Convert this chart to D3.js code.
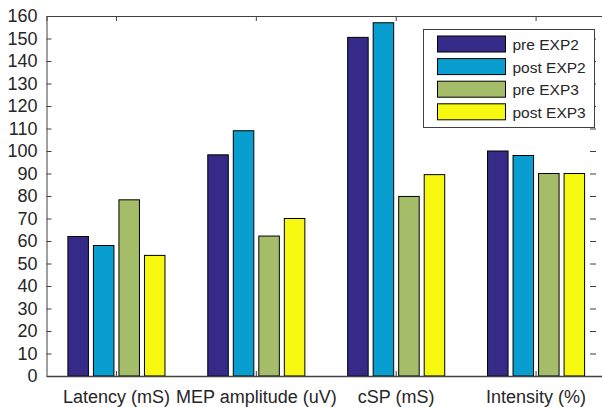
<!DOCTYPE html>
<html>
<head>
  <script src="https://d3js.org/d3.v7.min.js"></script>
  <style>
    body { margin: 0; background: #ffffff; }
    svg { display: block; font-family: 'Liberation Sans', Arial, sans-serif; }
  </style>
</head>
<body>
  <div id="chart"></div>
  <script>
    // chart data
    const categories = ["Latency (mS)", "MEP amplitude (uV)", "cSP (mS)", "Intensity (%)"];
    const seriesNames = ["pre EXP2", "post EXP2", "pre EXP3", "post EXP3"];
    const preExp2 = [62, 98.3, 150.5, 100];
    const postExp2 = [58, 109, 157, 98];
    const preExp3 = [78.3, 62.2, 79.8, 90];
    const postExp3 = [53.6, 70, 89.5, 90];
    const yTicks = [0, 10, 20, 30, 40, 50, 60, 70, 80, 90, 100, 110, 120, 130, 140, 150, 160];
    const colors = ["#352a87", "#089fd0", "#a5bd69", "#f7f80f"];

    const seriesValues = [preExp2, postExp2, preExp3, postExp3];

    const W = 602, H = 407;
    const plotLeft = 46.5, plotRight = 606, plotTop = 16, plotBottom = 376;

    const svg = d3.select("#chart").append("svg")
      .attr("width", W)
      .attr("height", H);

    const x = d3.scaleBand().domain(categories).range([plotLeft, plotRight]).padding(0);
    const bw = x.bandwidth();
    const xInner = d3.scaleBand().domain(seriesNames)
      .range([bw * 0.153, bw * 0.847])
      .paddingInner(0.196);
    const y = d3.scaleLinear().domain([0, 160]).range([plotBottom, plotTop]);

    const axisColor = "#404040";

    // bars
    const groups = svg.append("g").selectAll("g")
      .data(categories)
      .join("g")
      .attr("transform", d => `translate(${x(d)},0)`);

    groups.selectAll("rect")
      .data((c, i) => seriesNames.map((s, j) => ({ s, j, v: seriesValues[j][i] })))
      .join("rect")
      .attr("x", d => xInner(d.s))
      .attr("width", xInner.bandwidth())
      .attr("y", d => y(d.v))
      .attr("height", d => y(0) - y(d.v))
      .attr("fill", d => colors[d.j])
      .attr("stroke", "#000")
      .attr("stroke-width", 1);

    // left axis
    const yAxis = d3.axisLeft(y).tickValues(yTicks).tickSize(-5).tickPadding(9);
    const gy = svg.append("g")
      .attr("transform", `translate(${plotLeft},0)`)
      .call(yAxis);
    gy.select(".domain").attr("stroke", axisColor);
    gy.selectAll(".tick line").attr("stroke", axisColor);
    gy.selectAll(".tick text")
      .attr("font-size", 18)
      .attr("font-family", "'Liberation Sans', Arial, sans-serif")
      .attr("fill", "#262626");

    // right ticks
    const rightAxis = d3.axisRight(y).tickValues(yTicks).tickSize(-6).tickFormat("");
    const gr = svg.append("g")
      .attr("transform", `translate(${plotRight - 10},0)`)
      .call(rightAxis);
    gr.select(".domain").remove();
    gr.selectAll(".tick line").attr("stroke", axisColor);

    // bottom axis
    const xAxis = d3.axisBottom(x).tickSize(0).tickPadding(14);
    const gx = svg.append("g")
      .attr("transform", `translate(0,${plotBottom})`)
      .call(xAxis);
    gx.select(".domain").attr("stroke", axisColor).attr("stroke-width", 1.5);
    gx.selectAll(".tick text")
      .attr("font-size", 18)
      .attr("font-family", "'Liberation Sans', Arial, sans-serif")
      .attr("fill", "#262626");

    // top border with ticks
    const topAxis = d3.axisTop(x).tickSize(-5).tickFormat("");
    const gt = svg.append("g")
      .attr("transform", `translate(0,${plotTop})`)
      .call(topAxis);
    gt.select(".domain").attr("stroke", axisColor);
    gt.selectAll(".tick line").attr("stroke", axisColor);

    // small inner ticks on the bottom at category centres
    svg.append("g").selectAll("line")
      .data(categories)
      .join("line")
      .attr("x1", d => x(d) + bw / 2)
      .attr("x2", d => x(d) + bw / 2)
      .attr("y1", plotBottom)
      .attr("y2", plotBottom - 5)
      .attr("stroke", axisColor);

    // legend
    const legend = svg.append("g").attr("transform", "translate(423.5,29.5)");
    legend.append("rect")
      .attr("width", 171)
      .attr("height", 98)
      .attr("fill", "#fff")
      .attr("stroke", "#404040");
    const items = legend.selectAll("g.item")
      .data(seriesNames)
      .join("g")
      .attr("class", "item")
      .attr("transform", (d, i) => `translate(14,${6.5 + i * 22.6})`);
    items.append("rect")
      .attr("width", 68)
      .attr("height", 16)
      .attr("fill", (d, i) => colors[i])
      .attr("stroke", "#000");
    items.append("text")
      .attr("x", 75)
      .attr("y", 14)
      .attr("font-size", 15.5)
      .attr("fill", "#262626")
      .text(d => d);
  </script>
</body>
</html>
